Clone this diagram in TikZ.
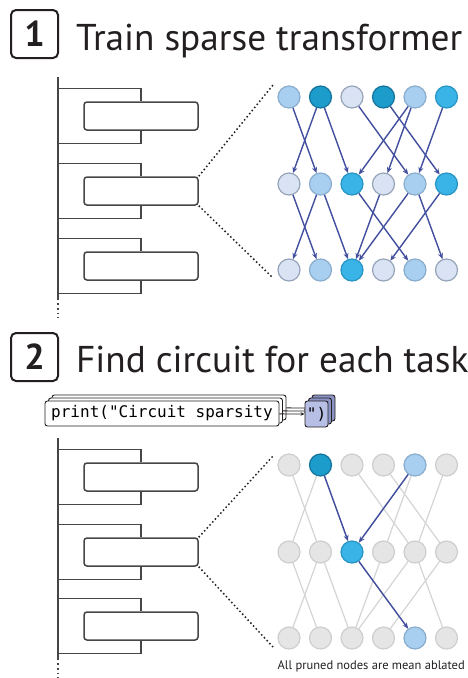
\documentclass[tikz,border=0pt]{standalone}
\usepackage{fontspec}
\setmainfont{PT Sans}
\setmonofont{DejaVu Sans Mono}
\usepackage{xcolor}
\definecolor{ink}{RGB}{35,31,32}
\definecolor{frame}{RGB}{70,70,70}
\definecolor{wireblue}{RGB}{66,78,158}
\definecolor{wiregray}{RGB}{212,212,212}
\definecolor{palefill}{RGB}{217,227,243}
\definecolor{paleline}{RGB}{150,164,186}
\definecolor{lightfill}{RGB}{168,207,239}
\definecolor{lightline}{RGB}{138,172,205}
\definecolor{midfill}{RGB}{58,180,230}
\definecolor{midline}{RGB}{40,148,196}
\definecolor{darkfill}{RGB}{28,156,202}
\definecolor{darkline}{RGB}{22,116,156}
\definecolor{grayfill}{RGB}{229,229,229}
\definecolor{grayline}{RGB}{206,206,206}
\definecolor{tokenfill}{RGB}{184,191,228}
\definecolor{tokenback}{RGB}{138,147,196}
\usepackage{tikz}
\usetikzlibrary{arrows.meta,positioning,calc}

\begin{document}
\begin{tikzpicture}[
  x=1pt, y=-1pt,
  numbox/.style={draw=ink, line width=2pt, rounded corners=5pt, minimum width=47pt, minimum height=48pt, inner sep=0pt, text=ink, font=\fontsize{36}{36}\selectfont\bfseries},
  heading/.style={anchor=base west, inner sep=0pt, text=ink, font=\fontsize{37.3}{37.3}\selectfont},
  bracket/.style={draw=frame, line width=1.8pt},
  layer/.style={draw=frame, fill=white, line width=1.5pt, rounded corners=3pt, minimum width=114pt, minimum height=28pt},
  zoomline/.style={dash pattern=on 1.5pt off 2.5pt, line width=1.5pt, ink},
  unit/.style={circle, minimum size=22pt, inner sep=0pt, line width=1.2pt, fill=#1fill, draw=#1line},
  wire/.style={-{Stealth[length=6pt,width=5pt]}, line width=1.4pt, wireblue},
  pruned/.style={line width=1.2pt, wiregray},
  codebox/.style={draw=ink, fill=white, line width=0.9pt, rounded corners=2.5pt, minimum width=234pt, minimum height=25pt, inner sep=0pt, font=\fontsize{16}{16}\ttfamily},
  tokbox/.style={draw=ink, line width=0.9pt, rounded corners=2.5pt, minimum width=23pt, minimum height=26pt, inner sep=0pt, font=\fontsize{16}{16}\ttfamily},
  feed/.style={-{Stealth[length=4pt,width=3.5pt]}, line width=0.8pt, ink}
]
\useasboundingbox (0,0) rectangle (467,678);

% step 1: train
\node[numbox] (num1) at (34.5,34) {1};
\node[heading] (head1) at (76,50) {Train sparse transformer};

\draw[bracket] (58,77) -- (58,300);
\draw[bracket, dash pattern=on 1.8pt off 3pt] (58,303) -- (58,318);
\foreach \c [count=\i] in {116,191,266} {
  \node[layer] (a-L\i) at (141,\c) {};
  \draw[bracket] (58,\c-27.5) -| (a-L\i.north);
  \draw[bracket] (58,\c+27.5) -| (a-L\i.south);
}

\foreach \col [count=\i] in {light,dark,pale,dark,light,mid}
  \node[unit=\col] (a-t\i) at ({289+31.5*(\i-1)},97) {};
\foreach \col [count=\i] in {pale,light,mid,pale,light,mid}
  \node[unit=\col] (a-m\i) at ({289+31.5*(\i-1)},184) {};
\foreach \col [count=\i] in {pale,light,mid,pale,light,pale}
  \node[unit=\col] (a-b\i) at ({289+31.5*(\i-1)},270) {};

\foreach \s/\t in {1/2,2/1,2/3,3/5,4/6,5/3,5/4,6/5}
  \draw[wire] (a-t\s) -- (a-m\t);
\foreach \s/\t in {1/2,2/1,2/3,3/5,4/3,5/3,5/6,6/4}
  \draw[wire] (a-m\s) -- (a-b\t);

\coordinate (a-z1) at (273,85);
\coordinate (a-z2) at (273,278);
\draw[zoomline] (a-L2.north east) -- (a-z1);
\draw[zoomline] (a-L2.south east) -- (a-z2);

% step 2: circuit
\node[numbox] (num2) at (34.5,357) {2};
\node[heading] (head2) at (76,372) {Find circuit for each task};

\foreach \k in {2,1} {
  \node[codebox] (p\k) at (162+3.5*\k,413.5-3*\k) {};
  \node[tokbox, fill=tokenback] (q\k) at (316.5+3.5*\k,414-3*\k) {};
  \draw[feed] (p\k) -- (q\k);
}
\node[codebox] (p0) at (162,413.5) {print("Circuit sparsity};
\node[tokbox, fill=tokenfill] (q0) at (316.5,414) {")};
\draw[feed] (p0) -- (q0);

\draw[bracket] (58,438) -- (58,660);
\draw[bracket, dash pattern=on 1.8pt off 3pt] (58,663) -- (58,678);
\foreach \c [count=\i] in {477,552,626} {
  \node[layer] (b-L\i) at (141,\c) {};
  \draw[bracket] (58,\c-27.5) -| (b-L\i.north);
  \draw[bracket] (58,\c+27.5) -| (b-L\i.south);
}

\foreach \col [count=\i] in {gray,dark,gray,gray,light,gray}
  \node[unit=\col] (b-t\i) at ({289+31.5*(\i-1)},465) {};
\foreach \col [count=\i] in {gray,gray,mid,gray,gray,gray}
  \node[unit=\col] (b-m\i) at ({289+31.5*(\i-1)},552) {};
\foreach \col [count=\i] in {gray,gray,gray,gray,light,gray}
  \node[unit=\col] (b-b\i) at ({289+31.5*(\i-1)},638) {};

\foreach \s/\t in {1/2,2/1,2/3,3/5,4/6,5/3,5/4,6/5}
  \draw[pruned] (b-t\s) -- (b-m\t);
\foreach \s/\t in {1/2,2/1,2/3,3/5,4/3,5/3,5/6,6/4}
  \draw[pruned] (b-m\s) -- (b-b\t);
\draw[wire] (b-t2) -- (b-m3);
\draw[wire] (b-t5) -- (b-m3);
\draw[wire] (b-m3) -- (b-b5);

\coordinate (b-z1) at (273,456);
\coordinate (b-z2) at (273,647);
\draw[zoomline] (b-L2.north east) -- (b-z1);
\draw[zoomline] (b-L2.south east) -- (b-z2);

\node[anchor=base east, inner sep=0pt, text=ink, font=\fontsize{12.5}{12.5}\selectfont] (note) at (465,669) {All pruned nodes are mean ablated};
\end{tikzpicture}
\end{document}
